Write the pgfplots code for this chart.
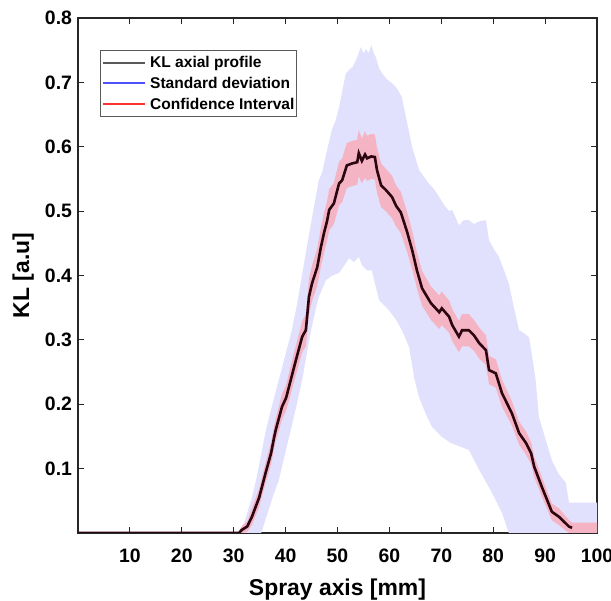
\documentclass[border=0pt]{standalone}
\usepackage{fontspec}
\setmainfont{Liberation Sans}
\usepackage{pgfplots}
\pgfplotsset{compat=1.18}
\usepackage{pgfplotstable}
\usepgfplotslibrary{fillbetween}
\definecolor{stdfill}{HTML}{E1E1FD}
\definecolor{cifill}{HTML}{F4B4C4}
\definecolor{meanline}{HTML}{2B0510}
\definecolor{axgray}{HTML}{262626}
\definecolor{legkl}{HTML}{5A5A5A}
\definecolor{legstd}{HTML}{5050FF}
\definecolor{legci}{HTML}{FF3030}

% mean KL axial profile
\pgfplotstableread{
x y
0 0
31.0 0
31.6 0.005
32.6 0.010
33.5 0.025
34.9 0.055
36.2 0.095
37.2 0.124
37.8 0.149
38.1 0.160
39.3 0.196
40.1 0.210
41.0 0.238
42.0 0.269
43.2 0.305
43.9 0.315
44.5 0.367
45.1 0.388
46.1 0.413
46.8 0.444
47.4 0.466
48.0 0.485
48.4 0.502
49.3 0.512
50.3 0.543
50.9 0.548
51.8 0.571
52.8 0.574
53.8 0.576
54.1 0.590
54.7 0.578
55.3 0.588
55.7 0.582
56.5 0.585
57.2 0.584
57.6 0.564
58.4 0.540
59.3 0.533
60.5 0.522
61.3 0.508
62.2 0.498
63.4 0.468
64.4 0.439
65.3 0.408
66.3 0.380
68.0 0.357
69.6 0.343
70.1 0.349
71.5 0.336
72.1 0.323
73.4 0.305
74.0 0.315
75.3 0.315
76.3 0.307
77.3 0.295
78.6 0.284
79.2 0.253
80.5 0.248
81.7 0.217
83.6 0.186
85.0 0.155
86.3 0.140
87.3 0.124
87.9 0.103
89.4 0.071
91.3 0.033
92.7 0.025
94.6 0.010
95.2 0.008
}\meantab

% confidence interval bounds
\pgfplotstableread{
x up lo
31.0 0.003 -0.003
31.6 0.011 -0.001
32.6 0.018 0.002
33.5 0.038 0.012
34.9 0.069 0.041
36.2 0.111 0.079
37.2 0.141 0.107
37.8 0.167 0.131
38.1 0.178 0.142
39.3 0.216 0.176
40.1 0.230 0.190
41.0 0.260 0.216
42.0 0.292 0.246
43.2 0.329 0.281
43.9 0.340 0.290
44.5 0.394 0.340
45.1 0.416 0.360
46.1 0.442 0.384
46.8 0.474 0.414
47.4 0.497 0.435
48.0 0.516 0.454
48.4 0.534 0.470
49.3 0.544 0.480
50.3 0.577 0.509
50.9 0.582 0.514
51.8 0.606 0.536
52.8 0.609 0.539
53.8 0.611 0.541
54.1 0.626 0.554
54.7 0.613 0.543
55.3 0.624 0.552
55.7 0.617 0.547
56.5 0.620 0.550
57.2 0.619 0.549
57.6 0.599 0.529
58.4 0.574 0.506
59.3 0.566 0.500
60.5 0.555 0.489
61.3 0.540 0.476
62.2 0.530 0.466
63.4 0.499 0.437
64.4 0.469 0.409
65.3 0.436 0.380
66.3 0.407 0.353
68.0 0.383 0.331
69.6 0.369 0.317
70.1 0.375 0.323
71.5 0.361 0.311
72.1 0.348 0.298
73.4 0.329 0.281
74.0 0.340 0.290
75.3 0.340 0.290
76.3 0.331 0.283
77.3 0.319 0.271
78.6 0.307 0.261
79.2 0.275 0.231
80.5 0.270 0.226
81.7 0.238 0.196
83.6 0.205 0.167
85.0 0.173 0.137
86.3 0.158 0.122
87.3 0.141 0.107
87.9 0.119 0.087
89.4 0.086 0.056
91.3 0.046 0.020
92.7 0.038 0.012
94.6 0.020 0.000
95.2 0.016 -0.010
100 0.016 -0.010
}\citab

% standard deviation, upper edge
\pgfplotstableread{
x y
30 0
31 0.002
32 0.015
32.6 0.031
33.5 0.055
34.3 0.082
35.2 0.118
36.2 0.160
37.4 0.198
38.7 0.238
40.0 0.278
41.2 0.315
42.2 0.355
43.0 0.393
44.0 0.440
45.1 0.490
46.4 0.548
47.0 0.559
48.0 0.595
48.9 0.626
49.6 0.640
50.3 0.661
51.0 0.690
51.6 0.714
52.2 0.719
53.0 0.725
53.8 0.739
54.5 0.755
55.0 0.745
55.5 0.752
56.0 0.745
56.5 0.758
57.0 0.745
57.4 0.739
58.0 0.722
58.6 0.714
59.5 0.705
60.5 0.699
61.5 0.690
62.4 0.677
63.2 0.646
64.4 0.599
65.7 0.564
66.5 0.555
67.6 0.543
68.5 0.535
69.6 0.522
70.5 0.510
71.5 0.500
72.1 0.502
73.4 0.478
74.3 0.486
75.3 0.486
76.3 0.480
77.3 0.484
78.6 0.486
79.2 0.455
80.2 0.440
81.1 0.429
82.0 0.410
83.0 0.388
84.0 0.350
85.0 0.315
86.0 0.310
86.9 0.304
87.6 0.270
88.2 0.236
88.8 0.180
90.0 0.148
91.3 0.113
92.6 0.092
94.0 0.078
94.6 0.047
100 0.047
}\stdup

% standard deviation, lower edge
\pgfplotstableread{
x y
30 0
35.3 0
36.5 0.030
37.6 0.058
38.7 0.082
39.8 0.120
41.0 0.160
42.1 0.198
43.2 0.238
44.0 0.275
44.9 0.315
45.6 0.340
46.4 0.367
47.8 0.393
49.0 0.400
50.3 0.404
51.6 0.419
52.2 0.427
53.2 0.421
54.1 0.429
54.7 0.416
55.7 0.408
56.6 0.408
57.3 0.385
58.0 0.362
59.9 0.346
61.3 0.331
62.4 0.315
63.8 0.289
64.8 0.240
65.7 0.211
67.0 0.185
68.2 0.165
70.0 0.150
71.8 0.140
73.4 0.135
75.3 0.129
77.3 0.098
79.8 0.062
81.7 0.031
83.0 0.0
100 0
}\stdlo

\begin{document}
\begin{tikzpicture}
\begin{axis}[
  at={(0,0)}, anchor=south west,
  width=519bp, height=515bp, scale only axis,
  xmin=0, xmax=100, ymin=0, ymax=0.8,
  xtick={10,20,...,100},
  ytick={0.1,0.2,0.3,0.4,0.5,0.6,0.7,0.8},
  tick align=inside, major tick length=6bp,
  axis line style={draw=axgray, line width=1.3bp},
  every tick/.append style={draw=axgray, line width=1.1bp},
  /pgf/number format/assume math mode=true,
  tick label style={font=\fontsize{19.5}{23}\selectfont\bfseries},
  xticklabel style={yshift=-12bp},
  yticklabel style={xshift=-2.5bp, /pgf/number format/.cd, fixed, fixed zerofill, precision=1},
  xlabel={Spray axis [mm]}, ylabel={KL [a.u]},
  label style={font=\fontsize{23}{27}\selectfont\bfseries},
  xlabel style={at={(axis description cs:0.5,-0.0816)}, anchor=north},
  ylabel style={at={(axis description cs:-0.0780,0.5)}, anchor=south},
]
\addplot[draw=none, name path=su, forget plot] table[x=x, y=y] {\stdup};
\addplot[draw=none, name path=sl, forget plot] table[x=x, y=y] {\stdlo};
\addplot[fill=stdfill, draw=none, forget plot] fill between[of=su and sl];

\addplot[draw=none, name path=cu, forget plot] table[x=x, y=up] {\citab};
\addplot[draw=none, name path=cl, forget plot] table[x=x, y=lo] {\citab};
\addplot[fill=cifill, draw=none, forget plot] fill between[of=cu and cl];

\addplot[draw=meanline, line width=2.6bp, forget plot] table[x=x, y=y] {\meantab};
\end{axis}
% legend box, drawn by hand
\draw[draw=black!65, fill=white, line width=0.8bp] (22bp,417bp) rectangle (218bp,483bp);
\draw[legkl, line width=1.1bp] (25bp,470bp) -- (67bp,470bp);
\draw[legstd, line width=1.1bp] (25bp,450bp) -- (67bp,450bp);
\draw[legci, line width=1.1bp] (25bp,429bp) -- (67bp,429bp);
\begin{scope}[every node/.style={anchor=west, inner sep=0pt, font=\fontsize{15.6}{19}\selectfont\bfseries}]
\node at (72bp,470bp) {KL axial profile};
\node at (72bp,450bp) {Standard deviation};
\node at (72bp,429bp) {Confidence Interval};
\end{scope}
\pgfresetboundingbox
\path[use as bounding box] (-78bp,-68bp) rectangle (533bp,533bp);
\end{tikzpicture}
\end{document}
